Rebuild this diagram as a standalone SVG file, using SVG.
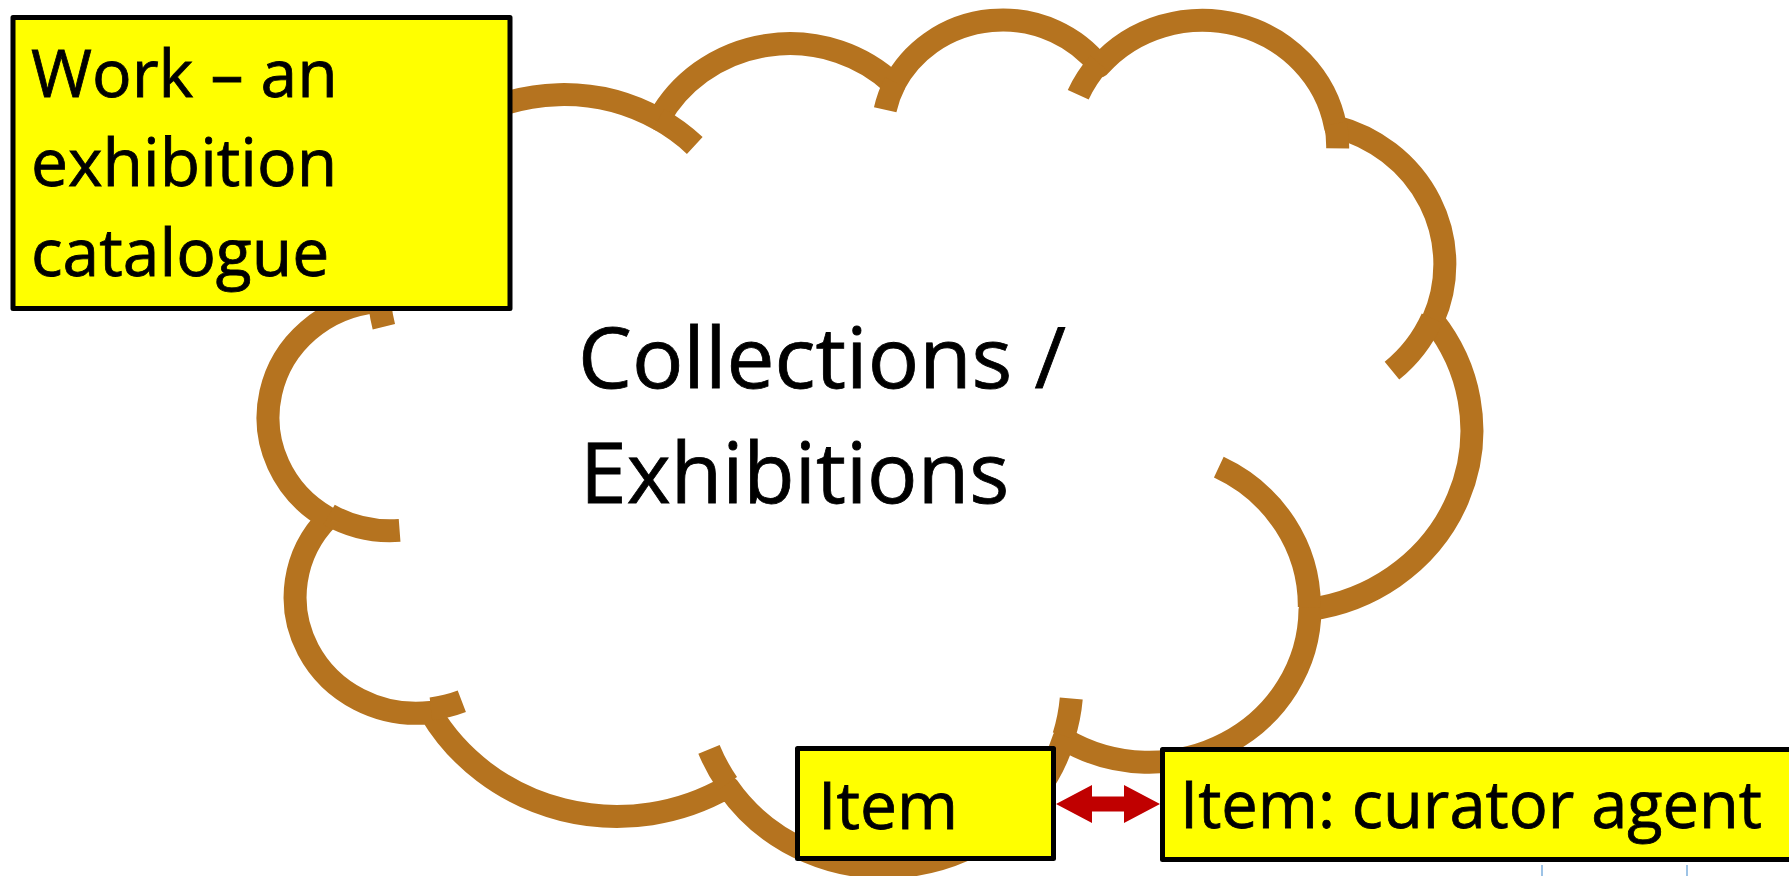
<svg xmlns="http://www.w3.org/2000/svg" width="1789" height="876" viewBox="0 0 1789 876">
  <style>
    .cloud { fill: #FFFFFF; stroke: #B5731F; stroke-width: 23; stroke-linejoin: round; stroke-linecap: butt; }
    .hook { fill: none; stroke: #B5731F; stroke-width: 23; stroke-linecap: butt; }
    .box { fill: #FFFF00; stroke: #000000; stroke-width: 5; stroke-linejoin: round; }
    .lbl { font-family: "Open Sans", "Noto Sans", sans-serif; fill: #000000; stroke: #000000; stroke-width: 0.8; }
    .small { font-size: 66px; }
    .big { font-size: 84px; }
    .arrow { fill: #C00000; }
    .frag { fill: none; stroke: #9DC3E6; stroke-width: 2; }
  </style>
  <rect width="1789" height="876" fill="#FFFFFF"/>

  <g id="cloud">
    <g transform="translate(269,17.3) scale(0.02783,0.0196)">
      <path class="cloud" vector-effect="non-scaling-stroke" d="M3900 14370 A6753 9190 0 0 1 14006 5203 A5333 7267 0 0 1 22457 3432 A4365 5945 0 0 1 29835 2481 A4857 6595 0 0 1 38320 5577 A5333 7273 0 0 1 41820 15460 A6775 9220 0 0 1 37406 30203 A5785 7867 0 0 1 28557 36813 A6752 9215 0 0 1 16481 39264 A7720 10543 0 0 1 5806 35469 A4360 5918 0 0 1 2115 25547 A4345 5945 0 0 1 3865 14503 Z"/>
      <path class="hook" vector-effect="non-scaling-stroke" d="M4693 26177 A4345 5945 0 0 1 2160 25380 M6928 34899 A4360 5918 0 0 1 5819 35281 M16478 39090 A6752 9215 0 0 1 15810 37351 M28827 34751 A6752 9215 0 0 1 28560 36660 M34129 22954 A5785 7867 0 0 1 37381 30090 M41798 15354 A5333 7273 0 0 1 40350 18030 M38324 5426 A4857 6595 0 0 1 38400 6690 M29078 3952 A4857 6595 0 0 1 29820 2340 M22141 4720 A4365 5945 0 0 1 22500 3329 M14000 5192 A6753 9190 0 0 1 15299 6540 M4127 15789 A6753 9190 0 0 1 3948 13342"/>
    </g>
    <text class="lbl big" x="578" y="388" textLength="488" lengthAdjust="spacingAndGlyphs">Collections /</text>
    <text class="lbl big" x="580" y="503">Exhibitions</text>
  </g>

  <g id="work">
    <rect class="box" x="13" y="17.5" width="497" height="291"/>
    <text class="lbl small" x="31" y="97">Work – an</text>
    <text class="lbl small" x="31" y="186">exhibition</text>
    <text class="lbl small" x="31" y="276">catalogue</text>
  </g>

  <g id="item">
    <rect class="box" x="797.5" y="748.5" width="256" height="110"/>
    <text class="lbl small" x="818" y="829">Item</text>
  </g>

  <g id="curator">
    <rect class="box" x="1162.5" y="749.5" width="1624" height="110"/>
    <text class="lbl small" x="1180" y="828" textLength="582" lengthAdjust="spacingAndGlyphs">Item: curator agent</text>
  </g>

  <g id="connectors">
    <polygon class="arrow" points="1056,804 1092,785 1092,796.5 1124,796.5 1124,785 1160,804 1124,823 1124,811.5 1092,811.5 1092,823"/>
  </g>

  <g id="fragments">
    <line class="frag" x1="1542" y1="865" x2="1542" y2="876"/>
    <line class="frag" x1="1687" y1="865" x2="1687" y2="876"/>
  </g>
</svg>
